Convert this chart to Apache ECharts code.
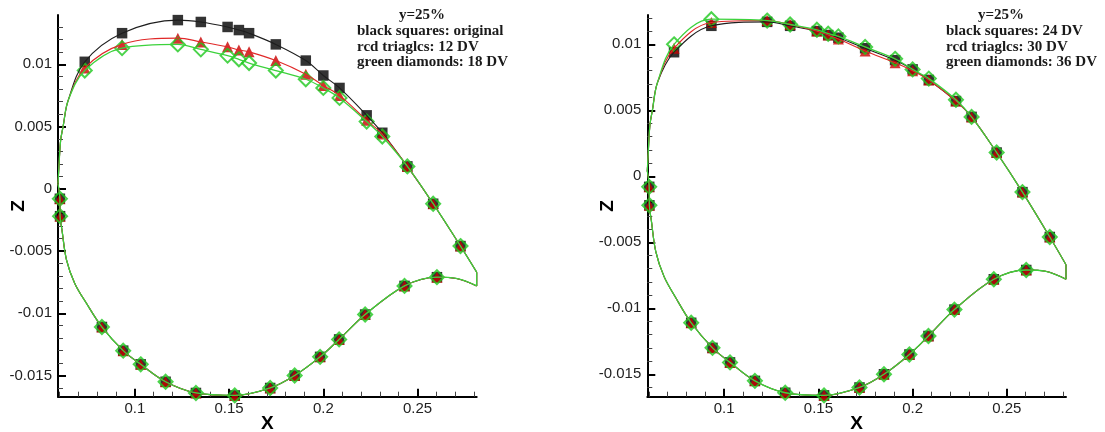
<!DOCTYPE html>
<html>
<head>
<meta charset="utf-8">
<script src="https://cdn.jsdelivr.net/npm/echarts@6/dist/echarts.min.js"></script>
<style>
  html, body { margin: 0; padding: 0; background: #fff; }
  #chart { width: 1105px; height: 432px; }
</style>
</head>
<body>
<div id="chart"></div>
<script>
// ---- axis ticks ----
const xMajorLabels = ['0.1', '0.15', '0.2', '0.25'];
const xMinorTicks = [0.06, 0.07, 0.08, 0.09, 0.11, 0.12, 0.13, 0.14, 0.16, 0.17, 0.18, 0.19,
                     0.21, 0.22, 0.23, 0.24, 0.26, 0.27, 0.28];
const zMajorLabels = ['-0.015', '-0.01', '-0.005', '0', '0.005', '0.01'];
const zMinorTicksLeft = [-0.016, -0.014, -0.013, -0.012, -0.011, -0.009, -0.008, -0.007, -0.006,
                         -0.004, -0.003, -0.002, -0.001, 0.001, 0.002, 0.003, 0.004, 0.006,
                         0.007, 0.008, 0.009, 0.011, 0.012, 0.013];
const zMinorTicksRight = [-0.016, -0.014, -0.013, -0.012, -0.011, -0.009, -0.008, -0.007, -0.006,
                          -0.004, -0.003, -0.002, -0.001, 0.001, 0.002, 0.003, 0.004, 0.006,
                          0.007, 0.008, 0.009, 0.011, 0.012];

// ---- section geometry shared by all cases ----
const leadingEdgeUpper = [[0.0592, 0.0004], [0.0597, 0.0018], [0.0606, 0.0039], [0.0619, 0.0050], [0.0646, 0.0071]];
const leadingEdgeLower = [[0.0613, -0.0033], [0.0637, -0.0057], [0.0681, -0.0076], [0.0743, -0.0092]];
const trailingLowerCurve = [[0.2706, -0.0072]];
const trailingEdge = [[0.2814, -0.0067], [0.2814, -0.0078]];
const upperAftPoints = [[0.2446, 0.0018], [0.2583, -0.0012], [0.2728, -0.0046]];
const lowerPoints = [[0.0602, -0.0008], [0.0603, -0.0022], [0.0825, -0.0111], [0.0938, -0.0130],
                     [0.1031, -0.0141], [0.1163, -0.0155], [0.1324, -0.0164], [0.1530, -0.0166],
                     [0.1718, -0.0160], [0.1848, -0.0150], [0.1983, -0.0135], [0.2084, -0.0121],
                     [0.2222, -0.0101], [0.2431, -0.0078], [0.2603, -0.0071]];

// ---- upper surface points per case ----
const upperX = [0.0734, 0.0932, 0.1228, 0.1350, 0.1492, 0.1552, 0.1606, 0.1748, 0.1907, 0.2000, 0.2086, 0.2230, 0.2313];
const zOriginal = [0.0102, 0.0125, 0.01355, 0.0134, 0.0130, 0.01275, 0.0125, 0.0116, 0.0103, 0.0091, 0.0081, 0.0059, 0.0045];
const zDV12 = [0.0097, 0.0116, 0.0121, 0.0118, 0.0114, 0.01115, 0.0110, 0.0103, 0.0092, 0.0083, 0.0075, 0.0055, 0.0044];
const zDV18 = [0.0095, 0.0113, 0.0116, 0.0112, 0.0107, 0.0104, 0.0101, 0.0095, 0.0088, 0.0081, 0.0073, 0.0054, 0.0042];
const zDV24 = [0.0094, 0.0114, 0.0117, 0.0114, 0.0110, 0.0107, 0.0105, 0.0097, 0.0088, 0.0081, 0.0073, 0.0057, 0.0045];
const zDV30 = [0.0097, 0.01165, 0.0118, 0.0115, 0.0110, 0.0107, 0.0104, 0.0095, 0.0086, 0.0080, 0.0073, 0.0057, 0.0045];
const zDV36 = [0.0100, 0.0119, 0.0118, 0.0115, 0.0111, 0.0108, 0.0106, 0.0098, 0.0089, 0.0081, 0.0074, 0.0058, 0.0045];

const leftNotes = ['y=25%', 'black squares: original', 'rcd triaglcs: 12 DV', 'green diamonds: 18 DV'];
const rightNotes = ['y=25%', 'black squares: 24 DV', 'rcd triaglcs: 30 DV', 'green diamonds: 36 DV'];

// ---- styling ----
const X_MIN = 0.0592, X_MAX = 0.2814;
const Z_RANGE = [[-0.0167, 0.01396], [-0.0167, 0.01222]];
const GRIDS = [{ left: 58, top: 15, width: 418.7, height: 381.7 },
               { left: 647.3, top: 15, width: 418.7, height: 381.7 }];
const STYLES = [
  { line: '#1e1e1e', width: 1.1, symbol: 'rect', size: 10.5, item: { color: '#000' } },
  { line: '#e02828', width: 1.1, symbol: 'triangle', size: 11, item: { color: '#c80000' } },
  { line: '#3cd23c', width: 1.3, symbol: 'diamond', size: 14,
    item: { color: 'rgba(255,255,255,0)', borderColor: '#1ec81e', borderWidth: 2 } }
];
const LABEL_FONT = '"Liberation Sans", Arial, sans-serif';

const zip = (xs, zs) => xs.map((x, i) => [x, zs[i]]);

function axesFor(gi) {
  const xMain = {
    type: 'value', gridIndex: gi, min: X_MIN, max: X_MAX, position: 'bottom',
    axisLine: { show: true, onZero: false, lineStyle: { color: '#000', width: 2 } },
    axisTick: { show: true, inside: true, length: 8, lineStyle: { color: '#000', width: 2 },
                customValues: xMajorLabels.map(Number) },
    axisLabel: { show: true, customValues: xMajorLabels.map(Number), margin: 5,
                 formatter: v => xMajorLabels.find(s => Math.abs(Number(s) - v) < 1e-9) || '',
                 color: '#222', fontSize: 15, fontFamily: LABEL_FONT },
    splitLine: { show: false },
    name: 'X', nameLocation: 'middle', nameGap: 18, nameMoveOverlap: false,
    nameTextStyle: { fontWeight: 'bold', fontSize: 19, color: '#000', fontFamily: LABEL_FONT }
  };
  const xMinor = {
    type: 'value', gridIndex: gi, min: X_MIN, max: X_MAX, position: 'bottom',
    axisLine: { show: false, onZero: false },
    axisTick: { show: true, inside: true, length: 5, lineStyle: { color: '#444', width: 1 },
                customValues: xMinorTicks },
    axisLabel: { show: false }, splitLine: { show: false }
  };
  const zMajors = zMajorLabels.map(Number);
  const yMain = {
    type: 'value', gridIndex: gi, min: Z_RANGE[gi][0], max: Z_RANGE[gi][1], position: 'left',
    axisLine: { show: true, onZero: false, lineStyle: { color: '#000', width: 2 } },
    axisTick: { show: true, inside: true, length: 8, lineStyle: { color: '#000', width: 2 },
                customValues: zMajors },
    axisLabel: { show: true, customValues: zMajors, margin: 6,
                 formatter: v => zMajorLabels.find(s => Math.abs(Number(s) - v) < 1e-9) || '',
                 color: '#222', fontSize: 15, fontFamily: LABEL_FONT },
    splitLine: { show: false },
    name: 'Z', nameLocation: 'middle', nameGap: 30, nameMoveOverlap: false,
    nameTextStyle: { fontWeight: 'bold', fontSize: 19, color: '#000', fontFamily: LABEL_FONT }
  };
  const yMinor = {
    type: 'value', gridIndex: gi, min: Z_RANGE[gi][0], max: Z_RANGE[gi][1], position: 'left',
    axisLine: { show: false, onZero: false },
    axisTick: { show: true, inside: true, length: 5, lineStyle: { color: '#444', width: 1 },
                customValues: gi === 0 ? zMinorTicksLeft : zMinorTicksRight },
    axisLabel: { show: false }, splitLine: { show: false }
  };
  return { x: [xMain, xMinor], y: [yMain, yMinor] };
}

function seriesFor(gi, zCases) {
  const xi = gi * 2, yi = gi * 2;
  const lines = [], marks = [];
  zCases.forEach((zs, k) => {
    const st = STYLES[k];
    const upper = zip(upperX, zs);
    const base = { type: 'line', xAxisIndex: xi, yAxisIndex: yi, symbol: 'none', silent: true,
                   lineStyle: { color: st.line, width: st.width }, animation: false };
    lines.push(Object.assign({}, base, { smooth: 0.35,
      data: [...leadingEdgeUpper, ...upper, ...upperAftPoints, trailingEdge[0]] }));
    lines.push(Object.assign({}, base, { smooth: false, data: trailingEdge }));
    lines.push(Object.assign({}, base, { smooth: 0.35,
      data: [leadingEdgeUpper[0], lowerPoints[0], lowerPoints[1], ...leadingEdgeLower,
             ...lowerPoints.slice(2), ...trailingLowerCurve, trailingEdge[1]] }));
    marks.push({ type: 'scatter', xAxisIndex: xi, yAxisIndex: yi, symbol: st.symbol, symbolSize: st.size,
                 itemStyle: st.item, silent: true, animation: false,
                 data: [...upper, ...upperAftPoints, ...lowerPoints] });
  });
  return [...lines, ...marks];
}

function notes(lines, centerX, leftX) {
  const ys = [15, 31.5, 47, 62.5];
  return lines.map((t, i) => ({
    type: 'text', x: i === 0 ? centerX : leftX, y: ys[i], silent: true,
    style: { text: t, font: 'bold 15px "Liberation Serif", "Times New Roman", serif', fill: '#1a1a1a',
             align: i === 0 ? 'center' : 'left', verticalAlign: 'middle' }
  }));
}

const a0 = axesFor(0), a1 = axesFor(1);
const option = {
  animation: false,
  backgroundColor: '#fff',
  grid: GRIDS.map(g => Object.assign({ containLabel: false, outerBoundsMode: 'none' }, g)),
  xAxis: [...a0.x, ...a1.x],
  yAxis: [...a0.y, ...a1.y],
  series: [...seriesFor(0, [zOriginal, zDV12, zDV18]), ...seriesFor(1, [zDV24, zDV30, zDV36])],
  graphic: [...notes(leftNotes, 422, 357), ...notes(rightNotes, 1001, 946)]
};

const chart = echarts.init(document.getElementById('chart'), null, { renderer: 'canvas' });
chart.setOption(option);
</script>
</body>
</html>
